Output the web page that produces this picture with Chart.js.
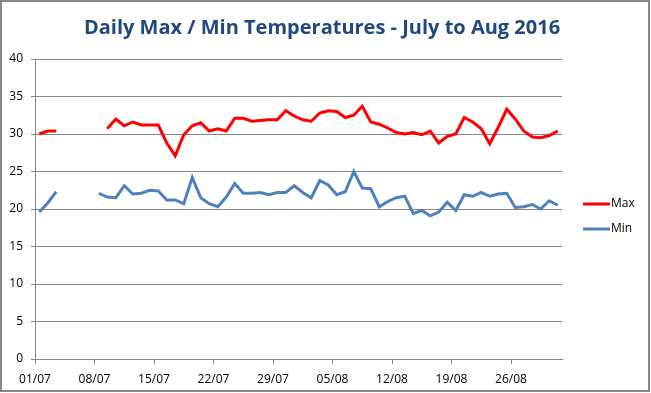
<!DOCTYPE html>
<html>
<head>
<meta charset="utf-8">
<script src="https://cdn.jsdelivr.net/npm/chart.js@4"></script>
<style>
  html,body{margin:0;padding:0;background:#fff;}
  #wrap{width:651px;height:393px;position:relative;}
</style>
</head>
<body>
<div id="wrap"><canvas id="chart" width="651" height="393"></canvas></div>
<script>
// DATA (01/07 .. 31/08, one value per day, null = missing)
const tickDays=[0,7,14,21,28,35,42,49,56];
const tickLabels=["01/07","08/07","15/07","22/07","29/07","05/08","12/08","19/08","26/08"];
const maxTemps=[
  30.0,30.4,30.4,null,null,null,null,null,30.7,32.0,
  31.1,31.6,31.2,31.2,31.2,28.8,27.1,29.9,31.1,31.5,
  30.4,30.7,30.4,32.1,32.1,31.7,31.8,31.9,31.9,33.1,
  32.4,31.9,31.7,32.8,33.1,33.0,32.2,32.5,33.7,31.6,
  31.3,30.8,30.2,30.0,30.2,29.9,30.4,28.8,29.7,30.0,
  32.2,31.6,30.7,28.7,30.9,33.3,32.0,30.4,29.6,29.5,
  29.8,30.4
];
const minTemps=[
  19.6,20.8,22.3,null,null,null,null,22.1,21.6,21.5,
  23.1,22.0,22.1,22.5,22.4,21.2,21.2,20.7,24.2,21.5,
  20.7,20.3,21.6,23.4,22.1,22.1,22.2,21.9,22.2,22.2,
  23.1,22.2,21.5,23.8,23.2,21.9,22.3,25.0,22.8,22.7,
  20.3,21.0,21.5,21.7,19.4,19.8,19.1,19.6,20.9,19.8,
  21.9,21.7,22.2,21.7,22.0,22.1,20.2,20.3,20.6,20.0,
  21.1,20.5
];
const seriesNames=["Max","Min"];
const seriesColors=["#FF0000","#4F81BD"];
const titleText="Daily Max / Min Temperatures - July to Aug 2016";

const GRID="#868686";
const FONT="'Open Sans', sans-serif";

// points sit in the middle of each day band
const toPts=arr=>arr.map((v,i)=>({x:i+0.5,y:v}));

// title, legend + frame drawn by hand (Excel style)
const excelDecor={
  id:"excelDecor",
  afterDraw(chart){
    const c=chart.ctx;
    c.save();
    c.strokeStyle=GRID; c.lineWidth=2;
    c.strokeRect(1,1,648,390);

    c.font="bold 20px "+FONT; c.fillStyle="#1F497D";
    c.textAlign="center"; c.textBaseline="alphabetic";
    c.fillText(titleText,322,34);

    c.font="12px "+FONT; c.textAlign="left"; c.textBaseline="middle"; c.fillStyle="#000";
    chart.data.datasets.forEach((ds,i)=>{
      const y=204+i*25;
      c.strokeStyle=ds.borderColor; c.lineWidth=3;
      c.beginPath(); c.moveTo(583,y); c.lineTo(610,y); c.stroke();
      c.fillText(ds.label,611,y);
    });
    c.restore();
  }
};

new Chart(document.getElementById("chart"),{
  type:"line",
  data:{
    datasets:[
      {label:seriesNames[0],data:toPts(maxTemps),borderColor:seriesColors[0],borderWidth:3,pointRadius:0,tension:0},
      {label:seriesNames[1],data:toPts(minTemps),borderColor:seriesColors[1],borderWidth:3,pointRadius:0,tension:0}
    ]
  },
  options:{
    responsive:false,animation:false,
    layout:{padding:{left:0,right:89,top:59,bottom:0}},
    plugins:{
      legend:{display:false},
      tooltip:{enabled:false},
      title:{display:false}
    },
    scales:{
      x:{
        type:"linear",min:0,max:62,
        afterFit:s=>{s.height=34;},
        grid:{drawOnChartArea:false,drawTicks:true,tickLength:5,color:GRID},
        border:{color:GRID,width:1},
        ticks:{
          stepSize:7,includeBounds:false,autoSkip:false,maxRotation:0,
          padding:8,color:"#000",font:{family:FONT,size:12},
          callback:v=>{const k=tickDays.indexOf(v);return k<0?"":tickLabels[k];}
        }
      },
      y:{
        min:0,max:40,
        afterFit:s=>{s.width=35;},
        grid:{color:GRID,tickLength:4,lineWidth:1},
        border:{color:GRID,width:1},
        ticks:{stepSize:5,padding:8,color:"#000",font:{family:FONT,size:12}}
      }
    }
  },
  plugins:[excelDecor]
});
</script>
</body>
</html>
